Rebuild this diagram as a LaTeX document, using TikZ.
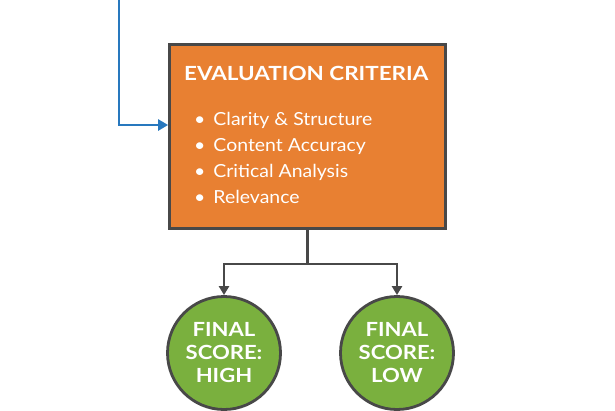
\documentclass[tikz,border=0pt]{standalone}
\usepackage{fontspec}
\setmainfont{Lato}
\usetikzlibrary{arrows.meta}
\definecolor{boxorange}{RGB}{232,128,50}
\definecolor{okgreen}{RGB}{122,176,62}
\definecolor{edgegray}{RGB}{72,72,72}
\definecolor{flowblue}{RGB}{40,120,190}
\tikzset{
  critbox/.style={draw=edgegray, line width=2.8pt, fill=boxorange, minimum width=276pt, minimum height=184pt, inner sep=0pt},
  titletext/.style={text=white, font=\fontsize{19.5}{23}\selectfont\bfseries\addfontfeature{FakeStretch=1.15}, inner sep=0pt, anchor=base west},
  itemtext/.style={text=white, font=\fontsize{18}{22}\selectfont\addfontfeature{FakeStretch=1.08}, inner sep=0pt, anchor=base west},
  scorecircle/.style={circle, draw=edgegray, line width=2.8pt, fill=okgreen, minimum size=113pt, inner sep=0pt, text=white, align=center, font=\fontsize{19.5}{23}\selectfont\bfseries\addfontfeature{FakeStretch=1.13}},
  conn/.style={draw=edgegray, line width=2.6pt},
  tip/.style={-{Triangle[length=9pt,width=10pt]}},
}
\begin{document}
\begin{tikzpicture}[x=1pt,y=-1pt]
\useasboundingbox (0,0) rectangle (615,410);
\fill[white] (0,0) rectangle (615,410);
\node[critbox] (crit) at (307.5,136.5) {};
\node[titletext] (title) at (184,80) {EVALUATION CRITERIA};
\node[itemtext] (i1) at (194,125) {\textbullet\hspace{8pt}Clarity \& Structure};
\node[itemtext] (i2) at (194,151) {\textbullet\hspace{8pt}Content Accuracy};
\node[itemtext] (i3) at (194,177) {\textbullet\hspace{8pt}Critical Analysis};
\node[itemtext] (i4) at (194,203) {\textbullet\hspace{8pt}Relevance};
\node[scorecircle] (high) at (224,353) {FINAL\\SCORE:\\HIGH};
\node[scorecircle] (low) at (397,353) {FINAL\\SCORE:\\LOW};
\coordinate (topin) at (119,-2);
\coordinate (split) at (307.5,264);
\draw[draw=flowblue, line width=2.8pt, -{Triangle[length=10pt,width=11pt]}] (topin) |- ([yshift=11.5pt]crit.west);
\draw[conn] (crit.south) -- (split);
\draw[conn, tip] (split) -| (high.north);
\draw[conn, tip] (split) -| (low.north);
\end{tikzpicture}
\end{document}
